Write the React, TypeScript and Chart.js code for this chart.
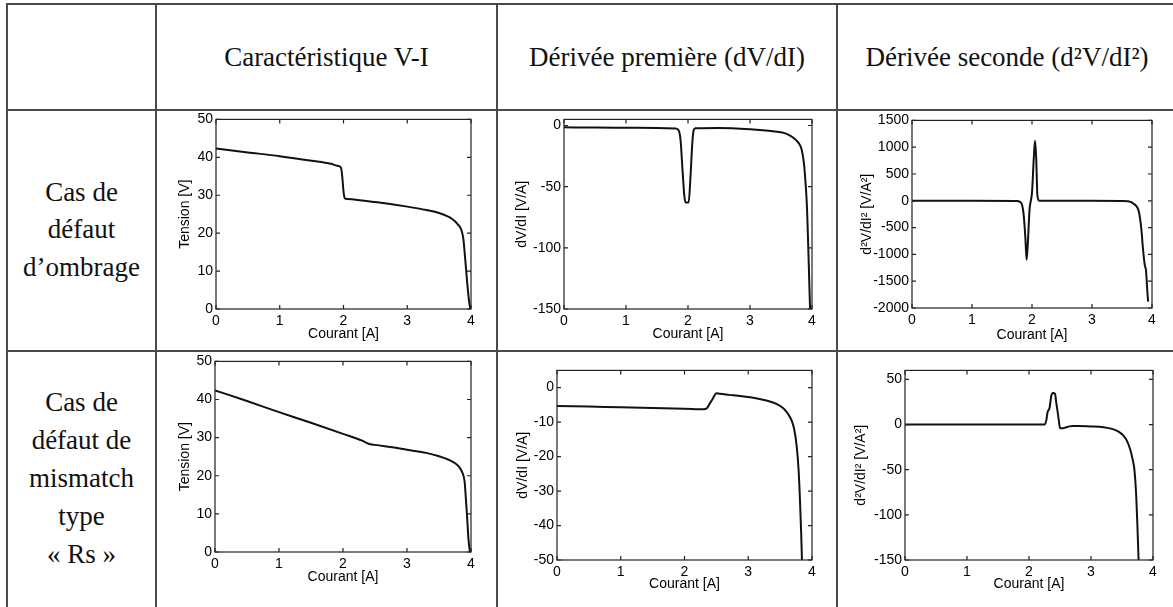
import React, { useEffect, useRef } from "react";
import { Chart, registerables } from "chart.js";

Chart.register(...registerables);

// ---------- DATA ----------
const courantTicks = [0, 1, 2, 3, 4];

// Cas de défaut d'ombrage
const ombrageVI_I = [0, 0.5, 1.0, 1.5, 1.8, 1.9, 1.96, 1.98, 2.0, 2.02, 2.06, 2.5, 3.0, 3.3, 3.5, 3.7, 3.8, 3.85, 3.88, 3.91, 3.94, 3.97, 3.99];
const ombrageVI_V = [42.3, 41.3, 40.3, 39.1, 38.3, 37.8, 37.3, 35, 31, 29.2, 29.0, 28.2, 27.0, 26.1, 25.3, 23.8, 22.2, 20.8, 18.5, 13, 7, 2, 0];
const tensionTicks = [0, 10, 20, 30, 40, 50];

const ombrageD1_I = [0, 0.5, 1.0, 1.5, 1.8, 1.85, 1.88, 1.91, 1.94, 1.96, 2.01, 2.04, 2.07, 2.09, 2.12, 2.5, 3.0, 3.3, 3.5, 3.6, 3.7, 3.78, 3.83, 3.87, 3.9, 3.92, 3.94, 3.96, 3.98];
const ombrageD1_dV = [-1.5, -1.6, -1.8, -2.0, -2.5, -4, -12, -35, -57, -63, -63, -42, -14, -4, -2.2, -2.0, -3.0, -4.2, -5.5, -7, -10, -14, -19, -31, -50, -68, -100, -135, -170];
const ombrageD1Ticks = [-150, -100, -50, 0];

const ombrageD2_I = [0, 1.0, 1.75, 1.82, 1.86, 1.89, 1.91, 1.93, 1.96, 1.98, 2.0, 2.03, 2.05, 2.07, 2.09, 2.12, 2.5, 3.0, 3.5, 3.6, 3.7, 3.78, 3.82, 3.85, 3.88, 3.9, 3.92, 3.935];
const ombrageD2_d2V = [0, 0, -5, -40, -250, -700, -1100, -800, -150, 0, 150, 800, 1120, 800, 100, 0, 0, 0, -5, -10, -60, -200, -500, -900, -1200, -1300, -1650, -1880];
const ombrageD2Ticks = [-2000, -1500, -1000, -500, 0, 500, 1000, 1500];

// Cas de défaut de mismatch type « Rs »
const rsVI_I = [0, 0.5, 1.0, 1.5, 2.0, 2.3, 2.4, 2.5, 2.8, 3.0, 3.3, 3.5, 3.65, 3.75, 3.82, 3.86, 3.9, 3.92, 3.94, 3.96, 3.98, 3.99];
const rsVI_V = [42.4, 39.6, 36.7, 33.9, 31.0, 29.2, 28.4, 28.1, 27.4, 26.8, 26.0, 25.1, 24.2, 23.3, 22.2, 21.0, 18.5, 14, 9, 3.5, 0.5, 0];

const rsD1_I = [0, 0.5, 1.0, 1.5, 2.0, 2.3, 2.35, 2.4, 2.45, 2.5, 2.55, 2.7, 2.9, 3.1, 3.3, 3.45, 3.55, 3.62, 3.68, 3.72, 3.76, 3.79, 3.81, 3.83, 3.85];
const rsD1_dV = [-5.3, -5.5, -5.7, -5.9, -6.1, -6.3, -6.0, -4.5, -3.0, -1.6, -1.8, -2.1, -2.5, -3.0, -3.8, -4.8, -6.0, -7.5, -9.5, -12, -17, -24, -32, -42, -55];
const rsD1Ticks = [-50, -40, -30, -20, -10, 0];

const rsD2_I = [0, 1.0, 2.0, 2.25, 2.28, 2.3, 2.33, 2.36, 2.39, 2.42, 2.44, 2.46, 2.48, 2.5, 2.55, 2.6, 2.65, 2.7, 2.8, 3.0, 3.2, 3.35, 3.45, 3.52, 3.58, 3.63, 3.67, 3.7, 3.73, 3.75, 3.77, 3.79];
const rsD2_d2V = [0, 0, 0, 0, 5, 14, 18, 32, 35, 34, 24, 15, 5, -4, -4, -3, -2, -1.5, -1.5, -2, -3, -5, -8, -12, -18, -27, -38, -50, -80, -115, -155, -200];
const rsD2Ticks = [-150, -100, -50, 0, 50];

// ---------- LAYOUT ----------
type Spec = {
  xs: number[];
  ys: number[];
  yMin: number;
  yMax: number;
  yTicks: number[];
  yTitle: string;
  plot: { l: number; t: number; r: number; b: number };
  yTitleX: number;
  xTitleY: number;
};

const specs: Spec[] = [
  { xs: ombrageVI_I, ys: ombrageVI_V, yMin: 0, yMax: 50, yTicks: tensionTicks, yTitle: "Tension [V]", plot: { l: 216, t: 118, r: 471, b: 309 }, yTitleX: 185, xTitleY: 335 },
  { xs: ombrageD1_I, ys: ombrageD1_dV, yMin: -150, yMax: 5, yTicks: ombrageD1Ticks, yTitle: "dV/dI [V/A]", plot: { l: 564, t: 118, r: 812, b: 309 }, yTitleX: 522, xTitleY: 335 },
  { xs: ombrageD2_I, ys: ombrageD2_d2V, yMin: -2000, yMax: 1500, yTicks: ombrageD2Ticks, yTitle: "d²V/dI² [V/A²]", plot: { l: 912, t: 119, r: 1152, b: 308 }, yTitleX: 867, xTitleY: 336 },
  { xs: rsVI_I, ys: rsVI_V, yMin: 0, yMax: 50, yTicks: tensionTicks, yTitle: "Tension [V]", plot: { l: 215, t: 360, r: 471, b: 552 }, yTitleX: 185, xTitleY: 578 },
  { xs: rsD1_I, ys: rsD1_dV, yMin: -50, yMax: 5, yTicks: rsD1Ticks, yTitle: "dV/dI [V/A]", plot: { l: 557, t: 369, r: 812, b: 560 }, yTitleX: 523, xTitleY: 585 },
  { xs: rsD2_I, ys: rsD2_d2V, yMin: -150, yMax: 60, yTicks: rsD2Ticks, yTitle: "d²V/dI² [V/A²]", plot: { l: 905, t: 369, r: 1153, b: 560 }, yTitleX: 861, xTitleY: 585 },
];

const AX_FONT = { family: "'Liberation Sans', Arial, sans-serif", size: 14 };
const AX_COLOR = "#000";
const HALF_LH = (14 * 1.2) / 2;

const boxTicks = {
  id: "boxTicks",
  afterDraw(chart: any) {
    const { ctx, chartArea: a, scales } = chart;
    const xs = scales.x;
    const ys = scales.y;
    const L = 4;
    ctx.save();
    ctx.strokeStyle = "#222";
    ctx.lineWidth = 1.2;
    ctx.strokeRect(a.left, a.top, a.right - a.left, a.bottom - a.top);
    ctx.beginPath();
    xs.ticks.forEach((t: any) => {
      const p = xs.getPixelForValue(t.value);
      ctx.moveTo(p, a.bottom);
      ctx.lineTo(p, a.bottom - L);
      ctx.moveTo(p, a.top);
      ctx.lineTo(p, a.top + L);
    });
    ys.ticks.forEach((t: any) => {
      const p = ys.getPixelForValue(t.value);
      ctx.moveTo(a.left, p);
      ctx.lineTo(a.left + L, p);
      ctx.moveTo(a.right, p);
      ctx.lineTo(a.right - L, p);
    });
    ctx.stroke();
    ctx.restore();
  },
};

function MiniChart({ spec }: { spec: Spec }) {
  const ref = useRef<HTMLCanvasElement>(null);
  const cl = Math.round(spec.yTitleX - HALF_LH);
  const ct = spec.plot.t - 10;
  const cr = spec.plot.r + 10;
  const cb = Math.round(spec.xTitleY + HALF_LH);
  const w = cr - cl;
  const h = cb - ct;
  const leftW = spec.plot.l - cl;
  const bottomH = cb - spec.plot.b;

  useEffect(() => {
    if (!ref.current) return;
    const chart = new Chart(ref.current, {
      type: "scatter",
      data: {
        datasets: [
          {
            data: spec.xs.map((x, i) => ({ x, y: spec.ys[i] })),
            showLine: true,
            pointRadius: 0,
            borderColor: "#111",
            borderWidth: 2,
            cubicInterpolationMode: "monotone",
          } as any,
        ],
      },
      options: {
        responsive: false,
        animation: false,
        devicePixelRatio: 1,
        layout: { padding: { top: 10, right: 10, left: 0, bottom: 0 } },
        plugins: { legend: { display: false }, tooltip: { enabled: false }, title: { display: false } },
        scales: {
          x: {
            type: "linear",
            min: 0,
            max: 4,
            afterBuildTicks: (s: any) => {
              s.ticks = courantTicks.map((v) => ({ value: v }));
            },
            afterFit: (s: any) => {
              s.height = bottomH;
            },
            grid: { display: false, drawTicks: false },
            border: { display: false },
            ticks: { padding: 4, maxRotation: 0, autoSkip: false, color: AX_COLOR, font: AX_FONT, callback: (v: any) => String(v) },
            title: { display: true, text: "Courant [A]", padding: 0, color: AX_COLOR, font: AX_FONT },
          },
          y: {
            type: "linear",
            min: spec.yMin,
            max: spec.yMax,
            afterBuildTicks: (s: any) => {
              s.ticks = spec.yTicks.map((v) => ({ value: v }));
            },
            afterFit: (s: any) => {
              s.width = leftW;
            },
            grid: { display: false, drawTicks: false },
            border: { display: false },
            ticks: { padding: 3, autoSkip: false, color: AX_COLOR, font: AX_FONT, callback: (v: any) => String(v) },
            title: { display: true, text: spec.yTitle, padding: 0, color: AX_COLOR, font: AX_FONT },
          },
        },
      } as any,
      plugins: [boxTicks],
    });
    return () => chart.destroy();
  }, []);

  return (
    <canvas
      ref={ref}
      width={w}
      height={h}
      style={{ position: "absolute", left: cl, top: ct, width: w, height: h }}
    />
  );
}

const LINE = "#4a4a4a";
const SERIF = "'Liberation Serif', 'Times New Roman', serif";

function HLine({ x, y, w }: { x: number; y: number; w: number }) {
  return <div style={{ position: "absolute", left: x, top: y - 1, width: w, height: 2, background: LINE }} />;
}
function VLine({ x, y, h }: { x: number; y: number; h: number }) {
  return <div style={{ position: "absolute", left: x - 1, top: y, width: 2, height: h, background: LINE }} />;
}

function Cell({ l, t, w, h, lh, children }: { l: number; t: number; w: number; h: number; lh: number; children: React.ReactNode }) {
  return (
    <div
      style={{
        position: "absolute",
        left: l,
        top: t,
        width: w,
        height: h,
        display: "flex",
        alignItems: "center",
        justifyContent: "center",
        textAlign: "center",
        fontFamily: SERIF,
        fontSize: 27,
        lineHeight: `${lh}px`,
        color: "#111",
      }}
    >
      <div>{children}</div>
    </div>
  );
}

export default function App() {
  return (
    <div style={{ position: "absolute", left: 0, top: 0, width: 1173, height: 607, overflow: "hidden", background: "#fff" }}>
      {/* table grid */}
      <HLine x={6} y={4} w={1180} />
      <HLine x={6} y={110} w={1180} />
      <HLine x={6} y={351} w={1180} />
      <VLine x={7} y={3} h={620} />
      <VLine x={156} y={3} h={620} />
      <VLine x={497} y={3} h={620} />
      <VLine x={837} y={3} h={620} />

      {/* header */}
      <Cell l={157} t={5} w={339} h={104} lh={32}>Caractéristique V-I</Cell>
      <Cell l={498} t={5} w={338} h={104} lh={32}>Dérivée première (dV/dI)</Cell>
      <Cell l={838} t={5} w={338} h={104} lh={32}>Dérivée seconde (d²V/dI²)</Cell>

      {/* row labels */}
      <Cell l={8} t={111} w={147} h={238} lh={37.5}>
        Cas de
        <br />
        défaut
        <br />
        d’ombrage
      </Cell>
      <Cell l={8} t={352} w={147} h={252} lh={38}>
        Cas de
        <br />
        défaut de
        <br />
        mismatch
        <br />
        type
        <br />
        «&nbsp;Rs&nbsp;»
      </Cell>

      {specs.map((s, i) => (
        <MiniChart key={i} spec={s} />
      ))}
    </div>
  );
}
